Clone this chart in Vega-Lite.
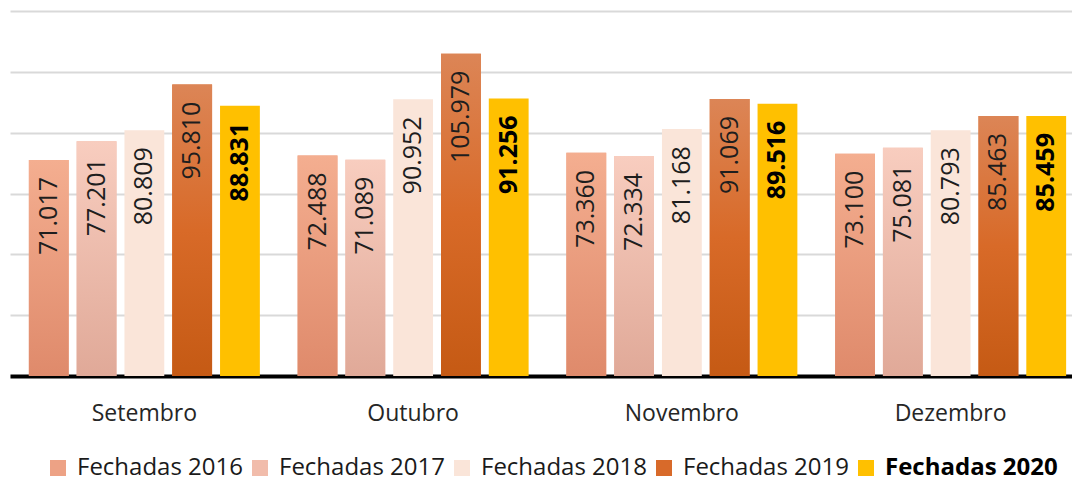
{
  "$schema": "https://vega.github.io/schema/vega-lite/v6.json",
  "width": 1062,
  "height": 365,
  "autosize": {"type": "none"},
  "padding": {"left": 10, "top": 11, "right": 0, "bottom": 103},
  "background": "white",
  "config": {"font": "Open Sans", "view": {"stroke": null}},
  "data": {
    "values": [
      {"mes": "Setembro", "serie": "Fechadas 2016", "valor": 71.017},
      {"mes": "Setembro", "serie": "Fechadas 2017", "valor": 77.201},
      {"mes": "Setembro", "serie": "Fechadas 2018", "valor": 80.809},
      {"mes": "Setembro", "serie": "Fechadas 2019", "valor": 95.810},
      {"mes": "Setembro", "serie": "Fechadas 2020", "valor": 88.831},
      {"mes": "Outubro", "serie": "Fechadas 2016", "valor": 72.488},
      {"mes": "Outubro", "serie": "Fechadas 2017", "valor": 71.089},
      {"mes": "Outubro", "serie": "Fechadas 2018", "valor": 90.952},
      {"mes": "Outubro", "serie": "Fechadas 2019", "valor": 105.979},
      {"mes": "Outubro", "serie": "Fechadas 2020", "valor": 91.256},
      {"mes": "Novembro", "serie": "Fechadas 2016", "valor": 73.360},
      {"mes": "Novembro", "serie": "Fechadas 2017", "valor": 72.334},
      {"mes": "Novembro", "serie": "Fechadas 2018", "valor": 81.168},
      {"mes": "Novembro", "serie": "Fechadas 2019", "valor": 91.069},
      {"mes": "Novembro", "serie": "Fechadas 2020", "valor": 89.516},
      {"mes": "Dezembro", "serie": "Fechadas 2016", "valor": 73.100},
      {"mes": "Dezembro", "serie": "Fechadas 2017", "valor": 75.081},
      {"mes": "Dezembro", "serie": "Fechadas 2018", "valor": 80.793},
      {"mes": "Dezembro", "serie": "Fechadas 2019", "valor": 85.463},
      {"mes": "Dezembro", "serie": "Fechadas 2020", "valor": 85.459}
    ]
  },
  "encoding": {
    "x": {
      "field": "mes", "type": "nominal",
      "sort": ["Setembro", "Outubro", "Novembro", "Dezembro"],
      "scale": {"range": [0, 1075], "paddingInner": 0.1405, "paddingOuter": 0.0702},
      "axis": {
        "title": null, "ticks": false, "labelAngle": 0,
        "labelFontSize": 23, "labelColor": "#262626", "labelPadding": 26,
        "domainColor": "#000000", "domainWidth": 4
      }
    },
    "xOffset": {
      "field": "serie", "type": "nominal",
      "scale": {"paddingInner": 0.1667, "paddingOuter": 0}
    },
    "y": {
      "field": "valor", "type": "quantitative",
      "scale": {"domain": [0, 120], "nice": false},
      "axis": {
        "title": null, "labels": false, "ticks": false, "domain": false,
        "values": [0, 20, 40, 60, 80, 100, 120],
        "gridColor": "#d9d9d9", "gridWidth": 2
      }
    }
  },
  "layer": [
    {
      "mark": {"type": "bar"},
      "encoding": {
        "color": {
          "field": "serie", "type": "nominal",
          "scale": {
            "domain": ["Fechadas 2016", "Fechadas 2017", "Fechadas 2018", "Fechadas 2019", "Fechadas 2020"],
            "range": ["#eda285", "#f1bcab", "#fae5d9", "#d86a2a", "#ffc000"]
          },
          "legend": {
            "title": null, "orient": "none", "legendX": 36, "legendY": 445,
            "direction": "horizontal", "columns": 5,
            "symbolType": "square", "symbolSize": 256, "symbolStrokeWidth": 0,
            "labelFontSize": 24, "labelColor": "#1a1a1a", "labelOffset": 7,
            "columnPadding": 5, "labelLimit": 300,
            "encode": {
              "labels": {
                "update": {
                  "fontWeight": {"signal": "datum.label === 'Fechadas 2020' ? 'bold' : 'normal'"},
                  "fill": {"signal": "datum.label === 'Fechadas 2020' ? '#000000' : '#1a1a1a'"}
                }
              }
            }
          }
        }
      }
    },
    {
      "transform": [{"filter": "datum.serie === 'Fechadas 2016'"}],
      "mark": {
        "type": "bar",
        "color": {"gradient": "linear", "x1": 0, "y1": 0, "x2": 0, "y2": 1,
          "stops": [{"offset": 0, "color": "#f4ae90"}, {"offset": 1, "color": "#df8a6b"}]}
      }
    },
    {
      "transform": [{"filter": "datum.serie === 'Fechadas 2017'"}],
      "mark": {
        "type": "bar",
        "color": {"gradient": "linear", "x1": 0, "y1": 0, "x2": 0, "y2": 1,
          "stops": [{"offset": 0, "color": "#f8cdbf"}, {"offset": 1, "color": "#e0a998"}]}
      }
    },
    {
      "transform": [{"filter": "datum.serie === 'Fechadas 2019'"}],
      "mark": {
        "type": "bar",
        "color": {"gradient": "linear", "x1": 0, "y1": 0, "x2": 0, "y2": 1,
          "stops": [{"offset": 0, "color": "#dc8556"}, {"offset": 0.5, "color": "#d86a28"}, {"offset": 1, "color": "#c55a14"}]}
      }
    },
    {
      "transform": [{"filter": "datum.serie !== 'Fechadas 2020'"}],
      "mark": {"type": "text", "angle": 270, "align": "right", "baseline": "middle", "dx": -17, "fontSize": 25, "color": "#1e1e1e"},
      "encoding": {"text": {"field": "valor", "type": "quantitative", "format": ".3f"}}
    },
    {
      "transform": [{"filter": "datum.serie === 'Fechadas 2020'"}],
      "mark": {"type": "text", "angle": 270, "align": "right", "baseline": "middle", "dx": -17, "fontSize": 25, "fontWeight": "bold", "color": "#000000"},
      "encoding": {"text": {"field": "valor", "type": "quantitative", "format": ".3f"}}
    }
  ]
}
